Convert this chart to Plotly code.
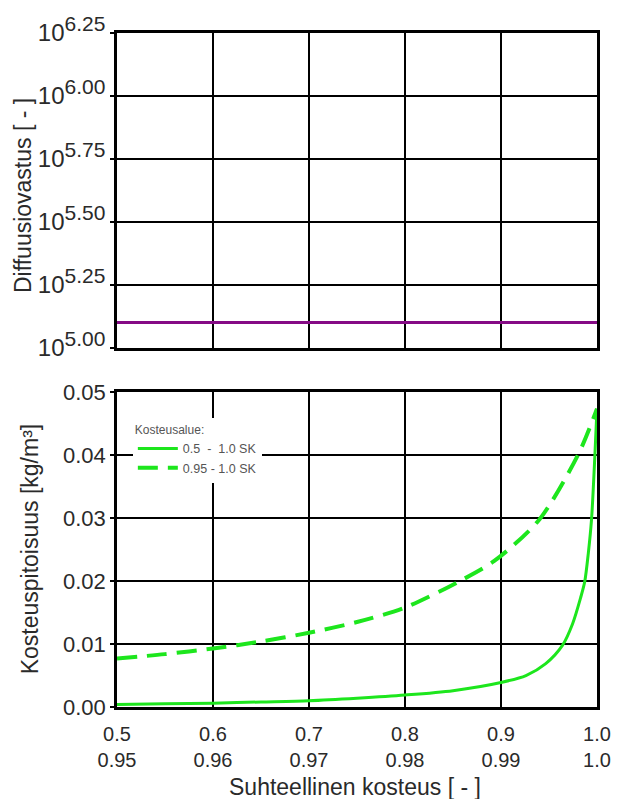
import plotly.graph_objects as go

# Diffusion resistance (constant over the range)
rh_mu = [0.5, 1.0]
mu = [126000, 126000]

# Moisture content, range 0.5 - 1.0 RH
rh_wide = [0.50, 0.55, 0.60, 0.65, 0.70, 0.75, 0.80, 0.85, 0.90, 0.926, 0.9466,
           0.964, 0.9745, 0.983, 0.9872, 0.9910, 0.9943, 0.9979, 1.0]
w_wide = [0.0004, 0.0005, 0.0006, 0.0008, 0.0010, 0.0014, 0.0019, 0.0026, 0.0039,
          0.0050, 0.0069, 0.0098, 0.0132, 0.0174, 0.0199, 0.0245, 0.0298, 0.0403,
          0.0474]

# Moisture content, range 0.95 - 1.0 RH
rh_narrow = [0.950, 0.955, 0.960, 0.965, 0.970, 0.975, 0.980, 0.9857, 0.9893,
             0.9940, 0.9981, 1.0]
w_narrow = [0.0077, 0.0084, 0.0093, 0.0104, 0.0118, 0.0135, 0.0158, 0.0200, 0.0232,
            0.0298, 0.0403, 0.0474]

x_ticks = [0.5, 0.6, 0.7, 0.8, 0.9, 1.0]
x_ticks_narrow = ["0.95", "0.96", "0.97", "0.98", "0.99", "1.0"]
x_ticktext = [f"{a:.1f}<br>{b}" for a, b in zip(x_ticks, x_ticks_narrow)]

mu_exp = [5.00, 5.25, 5.50, 5.75, 6.00, 6.25]
mu_tickvals = [10 ** e for e in mu_exp]
mu_ticktext = [f'10<sup><span style="font-size:21px">{e:.2f}</span></sup>'
               for e in mu_exp]

w_ticks = [0.00, 0.01, 0.02, 0.03, 0.04, 0.05]

GREEN = "#1de61d"
TEXT = "#2a2a2a"
FONT = "Liberation Sans, Arial, sans-serif"

fig = go.Figure()

fig.add_trace(go.Scatter(
    x=rh_mu, y=mu, mode="lines", xaxis="x2", yaxis="y2",
    line=dict(color="#850a85", width=3), showlegend=False))

fig.add_trace(go.Scatter(
    x=rh_wide, y=w_wide, mode="lines", xaxis="x", yaxis="y",
    line=dict(color=GREEN, width=3, shape="spline", smoothing=0.8),
    name="0.5  -  1.0 SK"))

fig.add_trace(go.Scatter(
    x=rh_narrow, y=w_narrow, mode="lines", xaxis="x3", yaxis="y",
    line=dict(color=GREEN, width=4, dash="20px,10px", shape="spline", smoothing=0.8),
    name="0.95 - 1.0 SK"))

grid = dict(showgrid=True, gridcolor="black", gridwidth=1.8,
            showline=True, linecolor="black", linewidth=2.5, mirror=True,
            zeroline=False)

fig.update_layout(
    width=623, height=799,
    margin=dict(l=117, r=25, t=28, b=92),
    paper_bgcolor="white", plot_bgcolor="white",
    font=dict(family=FONT, size=20, color=TEXT),
    xaxis=dict(domain=[0, 1], range=[0.5, 1.0], anchor="y",
               tickmode="array", tickvals=x_ticks, ticktext=x_ticktext,
               tickfont=dict(size=20), ticks="", ticklabelstandoff=7, **grid),
    xaxis2=dict(domain=[0, 1], range=[0.5, 1.0], anchor="y2",
                tickmode="array", tickvals=x_ticks, showticklabels=False,
                ticks="", **grid),
    xaxis3=dict(range=[0.95, 1.0], overlaying="x", anchor="y", visible=False),
    yaxis=dict(domain=[0, 0.4669], range=[0, 0.05], anchor="x",
               tickmode="array", tickvals=w_ticks,
               ticktext=[f"{v:.2f}" for v in w_ticks], tickfont=dict(size=22),
               ticks="outside", ticklen=4, tickcolor="black", tickwidth=1.5,
               **grid),
    yaxis2=dict(domain=[0.5331, 1], type="log", range=[5, 6.25], anchor="x2",
                tickmode="array", tickvals=mu_tickvals, ticktext=mu_ticktext,
                tickfont=dict(size=24),
                ticks="outside", ticklen=4, tickcolor="black", tickwidth=1.5,
                **grid),
    legend=dict(
        x=0.033, y=0.4285, xanchor="left", yanchor="top",
        bgcolor="white", borderwidth=0,
        title=dict(text="Kosteusalue:", font=dict(size=12, color="#555555")),
        font=dict(size=12.5, color="#555555"),
        tracegroupgap=0, itemwidth=40),
    annotations=[
        dict(text="Diffuusiovastus [ - ]", textangle=-90, x=23, y=192),
        dict(text="Kosteuspitoisuus [kg/m³]", textangle=-90, x=30, y=548),
        dict(text="Suhteellinen kosteus [ - ]", x=355, y=788),
    ],
)

# Axis titles are placed by pixel position; convert to paper coordinates
plot_w = 623 - 117 - 25
plot_h = 799 - 28 - 92
for ann in fig.layout.annotations:
    ann.update(xref="paper", yref="paper", showarrow=False,
               xanchor="center", yanchor="middle",
               font=dict(size=23, color=TEXT),
               x=(ann.x - 117) / plot_w, y=(799 - 92 - ann.y) / plot_h)

fig.write_html("out.html")
